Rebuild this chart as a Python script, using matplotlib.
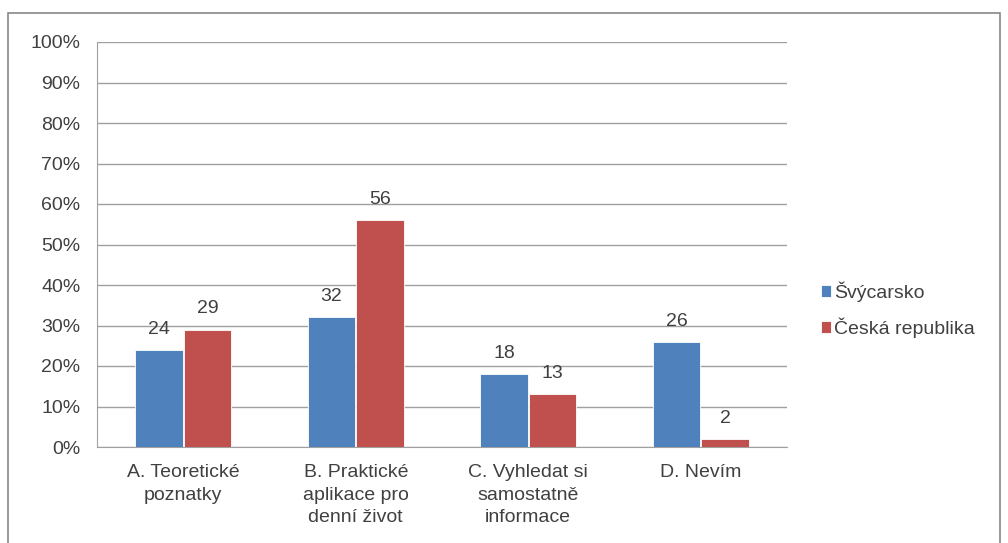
import matplotlib
matplotlib.use("Agg")
import matplotlib.pyplot as plt
from matplotlib.patches import Rectangle
import numpy as np

categories = ["A. Teoretické\npoznatky", "B. Praktické\naplikace pro\ndenní život",
              "C. Vyhledat si\nsamostatně\ninformace", "D. Nevím"]
series_names = ["Švýcarsko", "Česká republika"]
svycarsko = [24, 32, 18, 26]
ceska = [29, 56, 13, 2]
ytick_labels = ["0%", "10%", "20%", "30%", "40%", "50%", "60%", "70%", "80%", "90%", "100%"]

colors = ["#4F81BD", "#C0504D"]
text_color = "#404040"
fs = 14
plt.rcParams['font.family'] = ['Liberation Sans', 'DejaVu Sans']

fig = plt.figure(figsize=(10.08, 5.43), dpi=100)
fig.patch.set_facecolor("white")
# outer frame
fig.add_artist(Rectangle((8/1008, -0.05), (1000-8)/1008, 1 - 13/543 + 0.05,
                         transform=fig.transFigure, fill=False, edgecolor="#888888", lw=1.2))

ax = fig.add_axes([97/1008, 1 - 447/543, (787-97)/1008, (447-42)/543])
x = np.arange(len(categories))
w = 0.275
gap = 0.006
b1 = ax.bar(x - w/2 - gap/2, svycarsko, w, color=colors[0], label=series_names[0], zorder=3,
            edgecolor="white", linewidth=0.6)
b2 = ax.bar(x + w/2 + gap/2, ceska, w, color=colors[1], label=series_names[1], zorder=3,
            edgecolor="white", linewidth=0.6)
for bars, vals in ((b1, svycarsko), (b2, ceska)):
    for r, v in zip(bars, vals):
        ax.text(r.get_x() + r.get_width()/2, v + 3.0, str(v), ha="center", va="bottom",
                fontsize=fs, color=text_color)

ax.set_xlim(-0.5, len(categories) - 0.5)
ax.set_ylim(0, 100)
ax.set_yticks(np.arange(0, 101, 10))
ax.set_yticklabels(ytick_labels)
ax.set_xticks(x)
ax.set_xticklabels(categories, linespacing=1.45)
ax.tick_params(axis="both", colors=text_color, labelsize=fs, length=0)
ax.tick_params(axis="y", pad=12)
ax.tick_params(axis="x", pad=12)
for lbl in ax.get_yticklabels() + ax.get_xticklabels():
    lbl.set_color(text_color)
ax.yaxis.grid(True, color="#A0A0A0", lw=1.0, zorder=0)
for s in ["top", "right"]:
    ax.spines[s].set_visible(False)
ax.spines["left"].set_color("#A0A0A0")
ax.spines["bottom"].set_color("#A0A0A0")

leg = fig.legend(handles=[b1, b2], labels=series_names, loc="upper left",
                 bbox_to_anchor=(803/1008, 1 - 264/543), frameon=False, fontsize=fs,
                 handlelength=0.55, handleheight=0.55, handletextpad=0.15, labelspacing=0.8)
for t in leg.get_texts():
    t.set_color(text_color)

fig.savefig("out.png", dpi=100, facecolor="white")
